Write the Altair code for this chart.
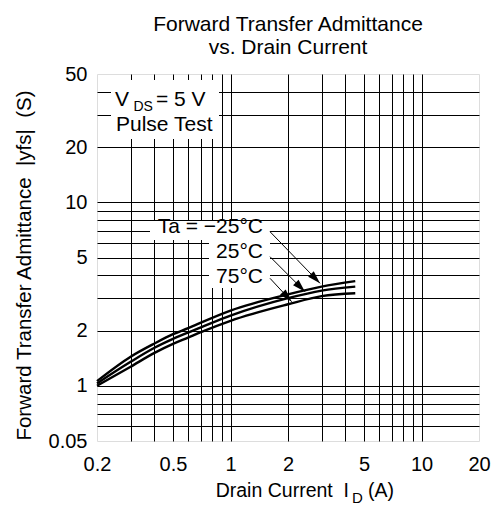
import altair as alt
import pandas as pd

FONT = "Liberation Sans"

# ---- data ----
current = [0.2, 0.3, 0.4, 0.5, 0.6, 0.7, 1.0, 2.0, 3.0, 4.5]
yfs_m25 = [1.06, 1.44, 1.70, 1.91, 2.06, 2.21, 2.57, 3.15, 3.47, 3.72]
yfs_25 = [1.03, 1.35, 1.61, 1.80, 1.95, 2.08, 2.41, 3.00, 3.30, 3.47]
yfs_75 = [1.00, 1.27, 1.51, 1.69, 1.83, 1.96, 2.26, 2.78, 3.08, 3.19]
temps = ["-25°C", "25°C", "75°C"]

x_grid = [0.2, 0.3, 0.4, 0.5, 0.6, 0.7, 0.8, 0.9, 1, 2, 3, 4, 5, 6, 7, 8, 9, 10, 20]
x_label_values = [0.2, 0.5, 1, 2, 5, 10, 20]
x_label_text = ["0.2", "0.5", "1", "2", "5", "10", "20"]
y_grid = [0.5, 0.6, 0.7, 0.8, 0.9, 1, 2, 3, 4, 5, 6, 7, 8, 9, 10, 20, 30, 40, 50]
y_label_values = [0.5, 1, 2, 5, 10, 20, 50]
y_label_text = ["0.05", "1", "2", "5", "10", "20", "50"]

rows = []
for t, ys in zip(temps, [yfs_m25, yfs_25, yfs_75]):
    for c, v in zip(current, ys):
        rows.append({"temp": t, "current": c, "yfs": v})
df = pd.DataFrame(rows)


def label_expr(values, texts):
    parts = [f"datum.value == {v} ? '{s}'" for v, s in zip(values, texts)]
    return " : ".join(parts) + " : ''"


edge_test_x = "datum.value == 0.2 || datum.value == 20"
edge_test_y = "datum.value == 0.5 || datum.value == 50"

x_axis = alt.Axis(
    values=x_grid, labelExpr=label_expr(x_label_values, x_label_text),
    grid=True, ticks=False, domain=False, title=None,
    gridColor="black", gridWidth=1,
    gridOpacity=alt.condition(edge_test_x, alt.value(0), alt.value(1)),
    labelFont=FONT, labelFontSize=20, labelColor="black", labelPadding=13,
    labelFlush=False, labelOverlap=False,
)
y_axis = alt.Axis(
    values=y_grid, labelExpr=label_expr(y_label_values, y_label_text),
    grid=True, ticks=False, domain=False,
    title="Forward Transfer Admittance\u00a0\u00a0|yfs|\u00a0\u00a0(S)",
    titleFont=FONT, titleFontSize=20.5, titleFontWeight="normal", titleColor="black",
    titleX=-67, titleY=191, titleAngle=270, titleAlign="center", titleBaseline="alphabetic",
    gridColor="black", gridWidth=1,
    gridOpacity=alt.condition(edge_test_y, alt.value(0), alt.value(1)),
    labelFont=FONT, labelFontSize=20, labelColor="black", labelPadding=10,
    labelFlush=False, labelOverlap=False,
)

curves = alt.Chart(df).mark_line(color="black", strokeWidth=2.4, interpolate="monotone").encode(
    x=alt.X("current:Q", scale=alt.Scale(type="log", domain=[0.2, 20], nice=False), axis=x_axis),
    y=alt.Y("yfs:Q", scale=alt.Scale(type="log", domain=[0.5, 50], nice=False), axis=y_axis),
    detail="temp:N",
)

one = pd.DataFrame({"k": [0]})


def txt(s, x, y, size=21, align="left"):
    return alt.Chart(pd.DataFrame({"t": [s]})).mark_text(
        align=align, baseline="alphabetic", fontSize=size, font=FONT, color="black"
    ).encode(x=alt.value(x), y=alt.value(y), text="t:N")


def box(x1, x2, y1, y2):
    return alt.Chart(one).mark_rect(color="white").encode(
        x=alt.value(x1), x2=alt.value(x2), y=alt.value(y1), y2=alt.value(y2))


def arrow(x1, y1, x2, y2, ang):
    line = alt.Chart(one).mark_rule(color="black", strokeWidth=1).encode(
        x=alt.value(x1), y=alt.value(y1), x2=alt.value(x2), y2=alt.value(y2))
    head = alt.Chart(one).mark_point(
        shape="M0,0 L-0.3,-1 L0.3,-1 Z", filled=True, color="black", opacity=1,
        size=676, angle=ang, strokeWidth=0,
    ).encode(x=alt.value(x2), y=alt.value(y2))
    return [line, head]


layers = [
    curves,
    box(14, 122, 6, 65),
    box(53, 173, 147, 166),
    box(112, 173, 166, 214),
    txt("V", 18, 31.7),
    txt("DS", 36.5, 36.7, size=14),
    txt("= 5 V", 59, 31.7),
    txt("Pulse Test", 19, 56.7),
    txt("Ta = \u221225°C", 166, 159, align="right"),
    txt("25°C", 166, 184, align="right"),
    txt("75°C", 166, 209, align="right"),
    *arrow(173, 157.7, 223, 209.3, 315.9),
    *arrow(173, 182.7, 208, 217.7, 315),
    *arrow(173, 204.3, 194.7, 227.7, 317.2),
    txt("Drain Current\u00a0\u00a0I", 252, 423, size=19.5, align="right"),
    txt("D", 255, 429, size=15),
    txt("(A)", 271, 423, size=19.5),
]

chart = alt.layer(*layers).properties(
    width=382, height=367,
    padding={"left": 97, "top": 74, "right": 14, "bottom": 66},
    autosize=alt.AutoSizeParams(type="none"),
    title=alt.TitleParams(
        ["Forward Transfer Admittance", "vs. Drain Current"],
        font=FONT, fontSize=21, fontWeight="normal", color="black",
        anchor="middle", offset=6, lineHeight=23,
    ),
).configure_view(stroke="#666", strokeWidth=1.5).configure(background="white")

chart.save("out.html", embed_options={"renderer": "svg", "actions": False})
